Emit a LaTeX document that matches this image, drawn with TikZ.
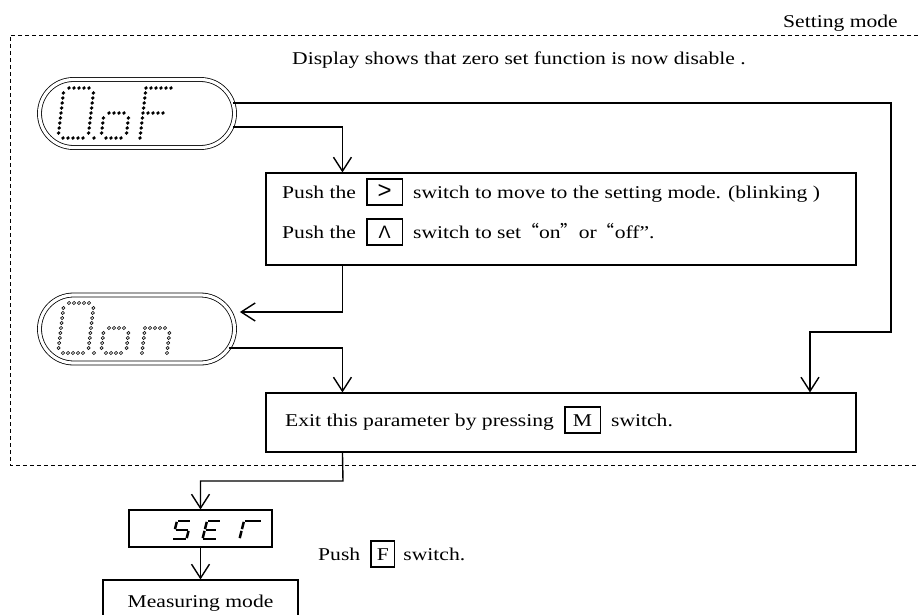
\documentclass[tikz,border=0pt]{standalone}
\usepackage{fontspec}
\setmainfont{Liberation Serif}[FakeStretch=1.2]
\newfontfamily\keyfont{Liberation Sans}
\newfontfamily\cjk{Noto Sans CJK SC}
\usetikzlibrary{positioning,arrows.meta,shapes.misc}

% framed switch name inside a line of text
\newcommand{\keycap}[2]{{\setlength{\fboxrule}{1.6pt}\setlength{\fboxsep}{0pt}%
  \fbox{\makebox[#1]{\rule[-6.4pt]{0pt}{24.8pt}#2}}}}
% dot matrix helpers (row / column of dots)
\newcommand{\mxrow}[3]{\foreach \mj in {#2,...,#3} \path[mxdot] (5*\mj,5*#1) circle[radius=\mxr];}
\newcommand{\mxcol}[3]{\foreach \mi in {#2,...,#3} \path[mxdot] (5*#1,5*\mi) circle[radius=\mxr];}
\newcommand{\mxzero}{\mxrow{0}{1}{5}\mxrow{10}{1}{5}\mxcol{0}{1}{9}\mxcol{6}{1}{9}}
\newcommand{\mxpoint}{\path[mxdot] (36,50) circle[radius=\mxr];}
\newcommand{\mxo}{\mxrow{5}{1}{4}\mxrow{10}{1}{4}\mxcol{0}{6}{9}\mxcol{5}{6}{9}}
\newcommand{\mxF}{\mxcol{0}{0}{10}\mxrow{0}{1}{5}\mxrow{5}{1}{4}}
\newcommand{\mxn}{\mxcol{0}{5}{10}\mxrow{5}{1}{4}\mxcol{5}{6}{10}}
\newcommand{\mxr}{1.9pt}

\begin{document}
\begin{tikzpicture}[x=1pt, y=-1pt,
                    >={Straight Barb[length=14pt,width=18pt]},
                    txt/.style={inner sep=0pt, anchor=base west, font=\fontsize{18pt}{20pt}\selectfont},
                    pill/.style={rounded rectangle, draw, double, double distance=3.2pt, line width=0.8pt,
                                 minimum width=195pt, minimum height=68pt, inner sep=0pt},
                    panel/.style={draw, line width=1.1pt, minimum width=590pt, inner sep=0pt},
                    lcd/.style={draw, line width=1.1pt, minimum width=143pt, minimum height=37pt, inner sep=0pt},
                    link/.style={line width=1.4pt},
                    seg/.style={line width=2.5pt, shorten <=0.9pt, shorten >=0.9pt}]
\useasboundingbox (0,0) rectangle (918,615);
\clip (0,0) rectangle (918,615);

% setting mode frame
\node[txt, anchor=base east] (modelabel) at (898,28) {Setting mode};
\draw[line width=0.8pt, dash pattern=on 4pt off 3pt] (918,35) -- (10,35) -- (10,465) -- (918,465);
\node[txt] (note) at (292,65) {Display shows that zero set function is now disable .};

% displays
\node[pill] (pilloff) at (137,113.5) {};
\node[pill] (pillon) at (137,329) {};
\begin{scope}[shift={(64,88)}, xslant=0.12, mxdot/.style={fill=black}]
  \mxzero \mxpoint
  \begin{scope}[xshift=43pt]\mxo\end{scope}
  \begin{scope}[xshift=82pt]\mxF\end{scope}
\end{scope}
\begin{scope}[shift={(64,303)}, xslant=0.12, mxdot/.style={draw, fill=white, line width=0.6pt}]
  \renewcommand{\mxr}{1.6pt}
  \mxzero \mxpoint
  \begin{scope}[xshift=43pt]\mxo\end{scope}
  \begin{scope}[xshift=84pt]\mxn\end{scope}
\end{scope}

% boxes
\node[panel, minimum height=92pt] (setbox) at (561,219) {};
\node[txt] (lineone) at (282,198) {Push the\hspace{10pt}\keycap{34pt}{\keyfont\fontsize{24pt}{24pt}\selectfont >}\hspace{10pt}switch to move to the setting mode. (blinking )};
\node[txt] (linetwo) at (282,238) {Push the\hspace{10pt}\keycap{34pt}{\keyfont Λ}\hspace{10pt}switch to set{\cjk “}on{\cjk ”}or{\cjk “}off”.};
\node[panel, minimum height=59pt] (exitbox) at (561,422.5) {};
\node[txt] (exitline) at (285,426) {Exit this parameter by pressing\hspace{10pt}\keycap{34pt}{M}\hspace{10pt}switch.};

\node[lcd] (setlcd) at (200.5,528.5) {};
\begin{scope}[shift={(177,521)}, xslant=0.25]
  \draw[seg] (0,0) -- (14,0); \draw[seg] (0,0) -- (0,9); \draw[seg] (0,9) -- (14,9);
  \draw[seg] (14,9) -- (14,18); \draw[seg] (14,18) -- (0,18);
\end{scope}
\begin{scope}[shift={(207,521)}, xslant=0.25]
  \draw[seg] (0,0) -- (14,0); \draw[seg] (0,0) -- (0,9); \draw[seg] (0,9) -- (0,18);
  \draw[seg] (0,9) -- (12,9); \draw[seg] (0,18) -- (14,18);
\end{scope}
\begin{scope}[shift={(244,521)}, xslant=0.25]
  \draw[seg] (0,0) -- (18,0); \draw[seg] (0,0) -- (0,9); \draw[seg] (0,9) -- (0,18);
\end{scope}
\node[lcd, minimum width=195pt, minimum height=60pt] (measure) at (200.5,610) {};
\node[inner sep=0pt, anchor=base, font=\fontsize{18pt}{20pt}\selectfont] (measurelabel) at (200.5,607) {Measuring mode};
\node[txt] (pushf) at (318,560) {Push\hspace{10pt}\keycap{22pt}{F}\hspace{8pt}switch.};

% connectors
\coordinate (rightturn) at (891,332);
\coordinate (lowturn) at (343,481);
\draw[link, ->] ([xshift=-2pt, yshift=-13.5pt]pilloff.east) -| ([xshift=77pt]setbox.north west);
\draw[link, ->] ([xshift=-2pt, yshift=10.5pt]pilloff.east) -| (rightturn) -| ([xshift=249pt]exitbox.north);
\draw[link, ->] ([xshift=77pt]setbox.south west) |- ([xshift=5pt, yshift=17pt]pillon.east);
\draw[link, ->] ([xshift=-6pt, yshift=-19pt]pillon.east) -| ([xshift=77pt]exitbox.north west);
\draw[link, ->] ([xshift=77pt]exitbox.south west) -- (lowturn) -| (setlcd.north);
\draw[link, ->] (setlcd.south) -- (measure.north);
\end{tikzpicture}
\end{document}
